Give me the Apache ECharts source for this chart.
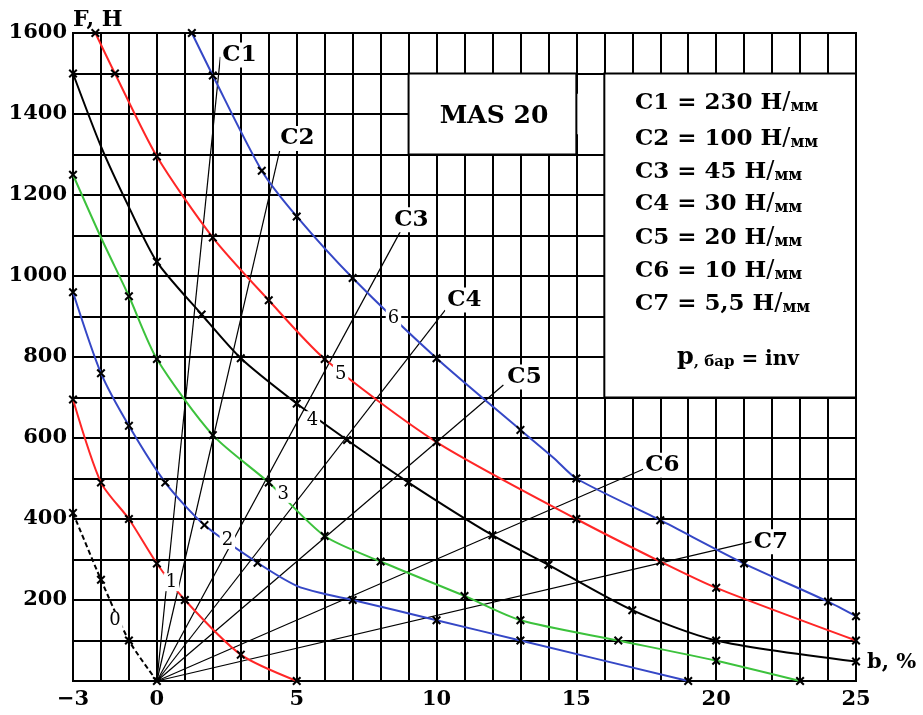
<!DOCTYPE html>
<html>
<head>
<meta charset="utf-8">
<script src="https://cdn.jsdelivr.net/npm/echarts/dist/echarts.min.js"></script>
<style>
  html, body { margin: 0; padding: 0; background: #fff; }
  #chart { width: 923px; height: 715px; }
</style>
</head>
<body>
<div id="chart"></div>
<script>
// Axis tick labels that carry text (every other grid line stays unlabeled)
const xTickLabels = [-3, 0, 5, 10, 15, 20, 25];
const yTickLabels = [200, 400, 600, 800, 1000, 1200, 1400, 1600];

// Force F (Н) versus travel b (%) for pressures p = 0 ... 6 bar
const curveP0 = [[-3, 415], [-2, 250], [-1, 100], [0, 0]];
const curveP1 = [[-3, 695], [-2, 490], [-1, 400], [0, 290], [1, 200], [3, 65], [5, 0]];
const curveP2 = [[-3, 960], [-2, 760], [-1, 630], [0.3, 490], [1.7, 385], [3.6, 292], [5, 235], [6, 215], [7, 200], [10, 150], [13, 100], [19, 0]];
const curveP3 = [[-3, 1250], [-2, 1095], [-1, 950], [0, 795], [2, 607], [4, 490], [6, 358], [8, 295], [11, 210], [13, 150], [16.5, 100], [20, 50], [23, 0]];
const curveP4 = [[-3, 1500], [-2, 1320], [-1, 1170], [0, 1035], [1.6, 905], [3, 797], [5, 685], [6.8, 595], [9, 490], [12, 360], [14, 287], [17, 175], [20, 100], [25, 48]];
const curveP5 = [[-2.2, 1600], [-1.5, 1500], [0, 1295], [2, 1095], [4, 940], [6, 795], [10, 590], [15, 400], [18, 295], [20, 230], [25, 100]];
const curveP6 = [[1.25, 1600], [2, 1495], [3.75, 1260], [5, 1147], [7, 995], [10, 797], [13, 620], [14.2, 550], [15, 500], [18, 397], [21, 290], [24, 196], [25, 160]];

// Measured points (drawn with an "x")
const marksP0 = [[-3, 415], [-2, 250], [-1, 100], [0, 0]];
const marksP1 = [[-3, 695], [-2, 490], [-1, 400], [0, 290], [1, 200], [3, 65], [5, 0]];
const marksP2 = [[-3, 960], [-2, 760], [-1, 630], [0.3, 490], [1.7, 385], [3.6, 292], [7, 200], [10, 150], [13, 100], [19, 0]];
const marksP3 = [[-3, 1250], [-1, 950], [0, 795], [2, 607], [4, 490], [6, 358], [8, 295], [11, 210], [13, 150], [16.5, 100], [20, 50], [23, 0]];
const marksP4 = [[-3, 1500], [0, 1035], [1.6, 905], [3, 797], [5, 685], [6.8, 595], [9, 490], [12, 360], [14, 287], [17, 175], [20, 100], [25, 48]];
const marksP5 = [[-2.2, 1600], [-1.5, 1500], [0, 1295], [2, 1095], [4, 940], [6, 795], [10, 590], [15, 400], [18, 295], [20, 230], [25, 100]];
const marksP6 = [[1.25, 1600], [2, 1495], [3.75, 1260], [5, 1147], [7, 995], [10, 797], [13, 620], [15, 500], [18, 397], [21, 290], [24, 196], [25, 160]];

// Pressure label of each curve and where it sits on the curve
const pressureNames = ['0', '1', '2', '3', '4', '5', '6'];
const pressureLabelAt = [[-1.5, 150], [0.52, 244], [2.52, 348], [4.52, 462], [5.56, 644], [6.57, 758], [8.46, 896]];

// Spring rate lines from the origin
const springNames = ['C1', 'C2', 'C3', 'C4', 'C5', 'C6', 'C7'];
const springRates = ['230', '100', '45', '30', '20', '10', '5,5'];
const springEnds = [[2.27, 1541], [4.41, 1315], [8.7, 1109], [10.31, 916], [12.39, 731], [17.39, 523], [21.27, 344]];

// ---- styling ----
const curves = [curveP0, curveP1, curveP2, curveP3, curveP4, curveP5, curveP6];
const marks = [marksP0, marksP1, marksP2, marksP3, marksP4, marksP5, marksP6];
const RED = '#ff2626', BLUE = '#3547c6', GREEN = '#3cc23c', BLACK = '#000';
const curveColors = [BLACK, RED, BLUE, GREEN, BLACK, RED, BLUE];
const springLabelOffsets = [[0, -2], [-2, -10], [-8, -12], [0, -10], [2, -8], [0, -4], [0, 0]];
const SERIF = '"DejaVu Serif", "Liberation Serif", serif';
const X_SYMBOL = 'path://M0,1.6L1.6,0L5,3.4L8.4,0L10,1.6L6.6,5L10,8.4L8.4,10L5,6.6L1.6,10L0,8.4L3.4,5Z';

const series = [];

// white panels laid over the grid
series.push({
  type: 'line', data: [], silent: true, z: 1,
  markArea: {
    silent: true,
    label: { show: false },
    data: [
      [{ coord: [15, 1350], itemStyle: { color: '#fff', borderWidth: 0, opacity: 1 } }, { coord: [16, 1450] }],
      [{ coord: [9, 1500], itemStyle: { color: '#fff', borderColor: '#000', borderWidth: 2, opacity: 1 } }, { coord: [15, 1300] }],
      [{ coord: [16, 1500], itemStyle: { color: '#fff', borderColor: '#000', borderWidth: 2, opacity: 1 } }, { coord: [25, 700] }]
    ]
  }
});

// spring rate lines
springEnds.forEach((end, i) => {
  series.push({
    type: 'line', name: springNames[i], data: [[0, 0], end],
    symbol: 'none', silent: true, z: 2,
    lineStyle: { color: '#000', width: 1.2 }
  });
});

// pressure curves
curves.forEach((pts, i) => {
  series.push({
    type: 'line', name: 'p' + i, data: pts, smooth: 0.25,
    symbol: 'none', silent: true, z: 3,
    lineStyle: { color: curveColors[i], width: 2, type: i === 0 ? [5, 3] : 'solid' }
  });
});

// measured points
series.push({
  type: 'scatter', silent: true, z: 4,
  data: [].concat(...marks),
  symbol: X_SYMBOL, symbolSize: 9,
  itemStyle: { color: '#000', opacity: 1 }
});

// C1 ... C7 labels at the line ends
series.push({
  type: 'scatter', silent: true, z: 5, symbolSize: 0,
  itemStyle: { opacity: 1 },
  data: springEnds.map((p, i) => ({
    value: p, name: springNames[i],
    label: { offset: springLabelOffsets[i] }
  })),
  label: {
    show: true, position: 'right', distance: 0,
    formatter: p => p.name,
    fontFamily: SERIF, fontWeight: 'bold', fontSize: 23, color: '#000', opacity: 1,
    backgroundColor: '#fff', padding: [1, 2]
  }
});

// pressure labels on the curves
series.push({
  type: 'scatter', silent: true, z: 5, symbolSize: 0,
  itemStyle: { opacity: 1 },
  data: pressureLabelAt.map((p, i) => ({ value: p, name: pressureNames[i] })),
  label: {
    show: true, position: 'inside',
    formatter: p => p.name,
    fontFamily: SERIF, fontSize: 18, color: '#000', opacity: 1,
    backgroundColor: '#fff', padding: [0, 2]
  }
});

const chart = echarts.init(document.getElementById('chart'), null, { renderer: 'canvas' });

const infoLines = springNames.map((n, i) => `{b|${n} = ${springRates[i]} Н}{s|/}{m|мм}`);
const infoY = [103, 139, 172, 204, 238, 271, 304];

chart.setOption({
  backgroundColor: '#fff',
  animation: false,
  grid: {
    left: 73, right: 67, top: 33, bottom: 34,
    show: true, borderColor: '#000', borderWidth: 2, backgroundColor: 'transparent'
  },
  xAxis: {
    type: 'value', min: -3, max: 25, interval: 1,
    axisLine: { show: false }, axisTick: { show: false },
    splitLine: { show: true, lineStyle: { color: '#000', width: 2 } },
    axisLabel: {
      margin: 8, color: '#000', fontFamily: SERIF, fontWeight: 'bold', fontSize: 21,
      formatter: v => xTickLabels.includes(v) ? (v < 0 ? '\u2212' + Math.abs(v) : String(v)) : ''
    }
  },
  yAxis: {
    type: 'value', min: 0, max: 1600, interval: 100,
    axisLine: { show: false }, axisTick: { show: false },
    splitLine: { show: true, lineStyle: { color: '#000', width: 2 } },
    axisLabel: {
      margin: 6, color: '#000', fontFamily: SERIF, fontWeight: 'bold', fontSize: 21,
      formatter: v => yTickLabels.includes(v) ? String(v) : ''
    }
  },
  series: series,
  graphic: [
    { type: 'text', x: 73, y: 20, z: 10,
      style: { text: 'F, Н', font: 'bold 22px ' + SERIF, fill: '#000', align: 'left', verticalAlign: 'middle' } },
    { type: 'text', x: 867, y: 663, z: 10,
      style: { text: 'b, %', font: 'bold 21px ' + SERIF, fill: '#000', align: 'left', verticalAlign: 'middle' } },
    { type: 'text', x: 494, y: 116, z: 10,
      style: { text: 'MAS 20', font: 'bold 25px ' + SERIF, fill: '#000', align: 'center', verticalAlign: 'middle' } },
    ...infoLines.map((t, i) => ({
      type: 'text', x: 635, y: infoY[i], z: 10,
      style: {
        text: t, align: 'left', verticalAlign: 'middle', fill: '#000',
        rich: {
          b: { fontFamily: SERIF, fontWeight: 'bold', fontSize: 23, verticalAlign: 'bottom' },
          s: { fontFamily: SERIF, fontSize: 24, verticalAlign: 'bottom' },
          m: { fontFamily: SERIF, fontWeight: 'bold', fontSize: 16, verticalAlign: 'bottom' }
        }
      }
    })),
    { type: 'text', x: 677, y: 358, z: 10,
      style: {
        text: '{p|p}{q|, бар}{r| = inv}', align: 'left', verticalAlign: 'middle', fill: '#000',
        rich: {
          p: { fontFamily: SERIF, fontWeight: 'bold', fontSize: 24, verticalAlign: 'bottom' },
          q: { fontFamily: SERIF, fontWeight: 'bold', fontSize: 15, verticalAlign: 'bottom' },
          r: { fontFamily: SERIF, fontWeight: 'bold', fontSize: 20, verticalAlign: 'bottom' }
        }
      }
    }
  ]
});
</script>
</body>
</html>
